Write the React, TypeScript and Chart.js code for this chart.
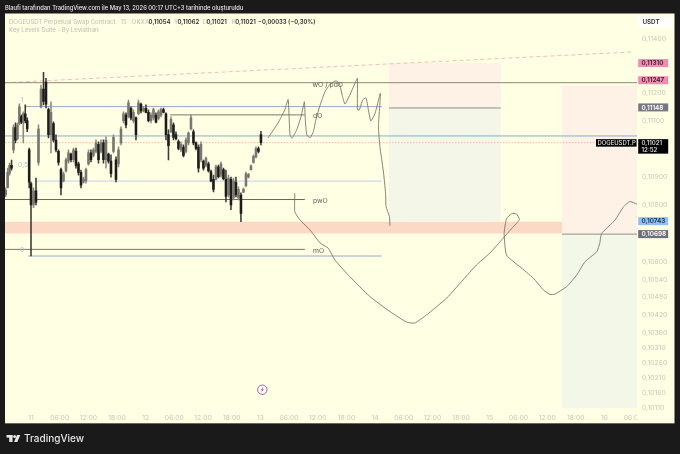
import React, { useEffect, useRef } from "react";
import { Chart, registerables } from "chart.js";

Chart.register(...registerables);

const FONT = "Inter, 'Noto Sans', sans-serif";
const toPrice = (p: number) => p / 100000;

// Candles, in 1/100000 of a USDT
const candleOpen = [10835,10862,10912,10940,10995,11075,11035,11090,11115,11095,11125,11100,10995,10875,10800,10850,10950,11150,11215,11240,11140,11050,11090,11030,10990,10925,10885,10920,10955,10980,10960,10990,10945,10915,10880,10885,10945,10985,10975,10990,11015,10990,11020,10960,10980,10955,10990,10960,10945,11020,11100,11120,11115,11145,11100,11110,11125,11160,11135,11145,11130,11100,11110,11120,11108,11120,11140,11125,11050,11060,11085,11050,11025,10995,11005,10990,11020,11070,11060,11020,11005,10960,10955,10940,10945,10918,10890,10890,10935,10905,10925,10890,10835,10890,10825,10880,10825,10835,10845,10868,10898,10925,10950,10970,11000,11050];
const candleClose = [10852,10915,10940,10930,11075,11030,11085,11150,11095,11125,11100,11070,10880,10800,10850,10810,11070,11215,11170,11160,11050,11130,11030,10995,10950,10860,10910,10960,10985,10960,10995,10940,10915,10870,10892,10925,10985,10960,10995,11020,10960,11020,10960,11030,10955,10910,11040,10890,10995,11070,11125,11085,11165,11110,11130,11050,11165,11135,11145,11130,11100,11120,11140,11095,11132,11140,11130,11050,11010,11105,11040,11035,11000,11015,10975,11030,11055,11110,11020,11000,10930,11015,10930,10965,10920,10885,10855,10935,10900,10945,10893,10830,10895,10800,10885,10835,10855,10770,10855,10910,10908,10938,10972,11000,10990,11021];
const candleHigh = [10860,10930,10948,10959,11085,11092,11092,11161,11121,11132,11157,11110,11002,10881,10860,10895,11085,11229,11276,11254,11146,11168,11096,11049,10995,10930,10916,10966,10995,10984,11002,11002,10952,10923,10898,10930,10995,10995,11002,11031,11024,11031,11031,11042,10984,10977,11049,10970,11006,11078,11132,11128,11175,11150,11139,11114,11175,11164,11150,11157,11139,11128,11146,11128,11139,11146,11146,11128,11067,11114,11092,11060,11031,11024,11013,11038,11060,11121,11067,11024,11013,11024,10959,10970,10952,10923,10905,10941,10941,10952,10930,10923,10905,10898,10895,10898,10864,10843,10860,10916,10912,10941,10977,11006,11006,11062];
const candleLow = [10829,10860,10905,10923,10984,11020,11031,11085,11089,11020,11092,11060,10860,10622,10790,10800,10941,11146,11157,11146,11038,10984,11024,10988,10941,10835,10881,10916,10948,10952,10952,10930,10905,10860,10877,10877,10941,10952,10970,10984,10948,10984,10948,10930,10948,10898,10984,10881,10934,11013,11092,11074,11110,11103,11092,11031,11121,11128,11132,11128,11096,11092,11103,11092,11103,11114,11128,11031,10959,11056,11031,11031,10995,10988,10970,10984,11013,11067,11013,10995,10916,10952,10923,10934,10916,10881,10846,10888,10895,10898,10888,10811,10828,10783,10818,10828,10818,10741,10843,10864,10895,10923,10948,10966,10984,11013];
const firstDayCandles = 13;
const earlyStartHour = -5.3;
const earlyStepHours = 0.41;
const candleStepHours = 0.523;
const candleHours = candleOpen.map((_, i) =>
  i < firstDayCandles ? earlyStartHour + i * earlyStepHours : (i - firstDayCandles) * candleStepHours
);

// Hand-drawn curves on the chart
const sketchAHours = [49.6,51.7,53.1,53.8,54.0,54.2,54.6,55.6,56.6,57.2,57.4,57.7,58.4,59.1,59.6,60.5,61.5,62.6,63.8,64.5,65.2,65.7,66.7,67.8,68.3,68.3,68.7,69.4,70.1,70.6,71.1,72.0,73.1,72.7,73.0,73.7,74.2,74.3,75.0,75.1];
const sketchAPrices = [11038,11092,11139,11177,11115,11049,11037,11067,11121,11169,11103,11049,11039,11061,11103,11157,11205,11233,11245,11236,11187,11160,11193,11236,11254,11139,11139,11175,11183,11139,11099,11127,11199,11079,11007,10923,10841,10794,10759,10727];
const sketchBHours = [55.2,55.2,56.3,58.4,60.5,62.2,63.6,66.7,70.9,75.1,78.6,80.3,82.8,87.0,90.4,93.2,96.0,98.8,100.6,102.2,101.6,100.6,99.5,99.0,99.5,102.3,105.1,107.2,108.6,109.6,112.1,114.2,115.9,118.4,119.0,119.4,122.2,124.0,125.3,126.8];
const sketchBPrices = [10841,10776,10747,10712,10667,10649,10608,10551,10483,10432,10396,10393,10421,10478,10540,10591,10632,10684,10718,10749,10768,10770,10752,10700,10625,10585,10546,10506,10490,10491,10517,10557,10602,10637,10666,10700,10747,10794,10812,10803];

// Axis
const AXIS_START_HOUR = -5.44;
const AXIS_END_HOUR = 126.8;
const timeTickHours = [0,6,12,18,24,30,36,42,48,54,60,66,72,78,84,90,96,102,108,114,120,126];
const timeTickLabels = ["11","06:00","12:00","18:00","12","06:00","12:00","18:00","13","06:00","12:00","18:00","14","06:00","12:00","18:00","15","06:00","12:00","18:00","16","06:00"];
const priceTicks = [0.114,0.112,0.111,0.109,0.108,0.106,0.1054,0.1048,0.1042,0.1036,0.1031,0.1026,0.1021,0.1016,0.1011];
const PRICE_TOP = 0.114938;
const PRICE_BOTTOM = 0.100999;

// Levels
const levels = [
  { from: AXIS_START_HOUR, to: AXIS_END_HOUR, price: 11238, color: "#8b8b72", width: 1, dash: [] as number[] },
  { from: -1.05, to: 73.4, price: 11151, color: "#93abd0", width: 1, dash: [] },
  { from: 29.1, to: 57.3, price: 11121, color: "#77776a", width: 1, dash: [] },
  { from: 74.9, to: 98.3, price: 11146, color: "#8f8f8f", width: 1, dash: [] },
  { from: AXIS_START_HOUR, to: AXIS_END_HOUR, price: 11045, color: "#8fa8d0", width: 1, dash: [] },
  { from: AXIS_START_HOUR, to: 118.0, price: 11021, color: "#f0b6ae", width: 1, dash: [1.5, 1.5] },
  { from: 0.84, to: 73.4, price: 10884, color: "#cdd8e6", width: 1.2, dash: [] },
  { from: AXIS_START_HOUR, to: 57.3, price: 10819, color: "#66665c", width: 1, dash: [] },
  { from: AXIS_START_HOUR, to: 57.3, price: 10645, color: "#77776a", width: 1, dash: [] },
  { from: -0.63, to: 73.4, price: 10622, color: "#93abd0", width: 1, dash: [] },
  { from: 111.1, to: AXIS_END_HOUR, price: 10698, color: "#8f8f8f", width: 1, dash: [] },
];
const trendHours = [AXIS_START_HOUR, 126.15];
const trendPrices = [11238, 11351];

const zones = [
  { from: 74.9, to: 98.3, top: 11310, bottom: 11146, color: "#fef2e6" },
  { from: 74.9, to: 98.3, top: 11146, bottom: 10743, color: "#f4f7e8" },
  { from: 111.1, to: AXIS_END_HOUR, top: 11229, bottom: 10698, color: "#fef2e6" },
  { from: 111.1, to: AXIS_END_HOUR, top: 10698, bottom: 10110, color: "#f3f7e8" },
  { from: AXIS_START_HOUR, to: AXIS_END_HOUR, top: 10741, bottom: 10700, color: "rgba(248,165,155,0.42)" },
];

const levelLabels = [
  { text: "wO / pdO", hour: 58.9, price: 11230 },
  { text: "dO", hour: 59.0, price: 11117 },
  { text: "pwO", hour: 59.0, price: 10815 },
  { text: "mO", hour: 59.0, price: 10641 },
];
const fibLabels = [
  { text: "1", hour: -2.2, price: 11175 },
  { text: "0,5", hour: -2.7, price: 10943 },
  { text: "0", hour: -2.3, price: 10643 },
];
const priceTags = [
  { price: 0.1131, bg: "#f08bb2", fg: "#3a2030" },
  { price: 0.11247, bg: "#f08bb2", fg: "#3a2030" },
  { price: 0.11148, bg: "#787884", fg: "#ffffff" },
  { price: 0.10743, bg: "#8dc0f6", fg: "#1c2a3c" },
  { price: 0.10698, bg: "#6e6e78", fg: "#ffffff" },
];
const LAST_PRICE = 0.11021;
const COUNTDOWN = "12:52";
const SYMBOL_TAG = "DOGEUSDT.P";
const EVENT_HOUR = 48.4;
const EVENT_PRICE = 0.1017;

const HEADER = "Blaufi tarafından TradingView.com ile May 13, 2026 00:17 UTC+3 tarihinde oluşturuldu";
const TITLE = "DOGEUSDT Perpetual Swap Contract · 15 · OKX";
const OHLC = [
  ["A", "0,11054"],
  ["Y", "0,11062"],
  ["D", "0,11021"],
  ["K", "0,11021"],
];
const CHANGE = "−0,00033 (−0,30%)";
const INDICATOR = "Key Levels Suite - By Leviathan";

const DARK = "#1a1a1a";
const PAPER = "#ffffe4";
const MUTED = "#c6c6bb";
const fmt = (v: number) => v.toFixed(5).replace(".", ",");

const chrome = {
  id: "chrome",
  beforeDraw(chart: any) {
    const c = chart.ctx;
    c.save();
    c.fillStyle = DARK;
    c.fillRect(0, 0, 680, 454);
    c.fillStyle = PAPER;
    c.fillRect(5, 13.5, 669.5, 409.5);
    c.fillStyle = "#8a8a80";
    c.fillRect(5, 423, 669.5, 0.7);
    c.restore();
  },
  afterDatasetsDraw(chart: any) {
    const c = chart.ctx;
    const { right, bottom } = chart.chartArea;
    c.save();
    c.fillStyle = PAPER;
    c.fillRect(right, bottom, 37, 12);
    c.restore();
  },
  afterDraw(chart: any) {
    const c = chart.ctx;
    const xs = chart.scales.x;
    const ys = chart.scales.y;
    const { right } = chart.chartArea;
    c.save();
    c.textBaseline = "middle";
    c.textAlign = "left";

    c.fillStyle = "#e6e6e6";
    c.font = `500 5.8px ${FONT}`;
    c.fillText(HEADER, 5, 8.5);

    c.font = `500 6px ${FONT}`;
    c.fillStyle = MUTED;
    c.fillText(TITLE, 9, 22);
    c.fillText(INDICATOR, 9, 30);

    let x = 145;
    OHLC.forEach(([k, v]) => {
      c.fillStyle = MUTED;
      c.font = `500 6.1px ${FONT}`;
      c.fillText(k, x, 22);
      c.fillStyle = "#2c2c2c";
      c.font = `600 6px ${FONT}`;
      c.fillText(v, x + 3.6, 22);
      x += 28.9;
    });
    c.fillStyle = "#2c2c2c";
    c.font = `600 5.9px ${FONT}`;
    c.fillText(CHANGE, 258, 22);

    c.fillStyle = "#ffffff";
    c.fillRect(638, 17, 34, 10.5);
    c.fillStyle = "#333333";
    c.font = `600 6.3px ${FONT}`;
    c.textAlign = "center";
    c.fillText("USDT", 651, 22);
    c.textAlign = "left";

    c.fillStyle = "#5c5c52";
    c.font = `400 6.8px ${FONT}`;
    levelLabels.forEach((l) => c.fillText(l.text, xs.getPixelForValue(l.hour), ys.getPixelForValue(toPrice(l.price))));
    c.fillStyle = "#a9bcd8";
    fibLabels.forEach((l) => c.fillText(l.text, xs.getPixelForValue(l.hour), ys.getPixelForValue(toPrice(l.price))));

    c.font = `600 6.4px ${FONT}`;
    priceTags.forEach((t) => {
      const y = ys.getPixelForValue(t.price);
      c.fillStyle = t.bg;
      c.fillRect(right + 1.2, y - 4, 30, 8);
      c.fillStyle = t.fg;
      c.fillText(fmt(t.price), right + 4.5, y + 0.3);
    });

    const ly = ys.getPixelForValue(LAST_PRICE);
    c.fillStyle = "#000000";
    c.fillRect(right + 1.2, ly - 3.5, 30, 14.5);
    c.fillRect(right - 41, ly - 3.5, 40.6, 7.5);
    c.fillStyle = "#e8e8e8";
    c.font = `500 6.2px ${FONT}`;
    c.fillText(fmt(LAST_PRICE), right + 4.5, ly + 0.2);
    c.fillText(COUNTDOWN, right + 4.5, ly + 7);
    c.font = `500 5.9px ${FONT}`;
    c.fillText(SYMBOL_TAG, right - 39.5, ly + 0.3);

    const ex = xs.getPixelForValue(EVENT_HOUR);
    const ey = ys.getPixelForValue(EVENT_PRICE);
    c.strokeStyle = "#9a4fb4";
    c.fillStyle = "#9a4fb4";
    c.lineWidth = 0.9;
    c.beginPath();
    c.arc(ex, ey, 4.7, 0, Math.PI * 2);
    c.stroke();
    c.beginPath();
    c.moveTo(ex + 1.1, ey - 3);
    c.lineTo(ex - 1.6, ey + 0.5);
    c.lineTo(ex - 0.1, ey + 0.5);
    c.lineTo(ex - 1.1, ey + 3);
    c.lineTo(ex + 1.6, ey - 0.5);
    c.lineTo(ex + 0.1, ey - 0.5);
    c.closePath();
    c.fill();

    c.fillStyle = "#e4e4e4";
    c.fillRect(6.5, 435, 6, 2.6);
    c.fillRect(9.2, 435, 3.3, 7);
    c.beginPath();
    c.arc(14.6, 436.4, 1.5, 0, Math.PI * 2);
    c.fill();
    c.beginPath();
    c.moveTo(17, 435);
    c.lineTo(20.3, 435);
    c.lineTo(17.3, 442);
    c.lineTo(14, 442);
    c.closePath();
    c.fill();
    c.font = `500 10px ${FONT}`;
    c.fillText("TradingView", 24, 439);
    c.restore();
  },
};

export default function App() {
  const ref = useRef<HTMLCanvasElement | null>(null);

  useEffect(() => {
    document.body.style.margin = "0";
    document.body.style.background = DARK;
    const chart = new Chart(ref.current as HTMLCanvasElement, {
      type: "bar",
      plugins: [chrome],
      data: {
        datasets: [
          ...zones.map((z) => ({
            type: "line" as const,
            data: [
              { x: z.from, y: toPrice(z.top) },
              { x: z.to, y: toPrice(z.top) },
            ],
            borderWidth: 0,
            pointRadius: 0,
            fill: { value: toPrice(z.bottom) },
            backgroundColor: z.color,
            order: 20,
          })),
          ...levels.map((l) => ({
            type: "line" as const,
            data: [
              { x: l.from, y: toPrice(l.price) },
              { x: l.to, y: toPrice(l.price) },
            ],
            borderColor: l.color,
            borderWidth: l.width,
            borderDash: l.dash,
            pointRadius: 0,
            order: 10,
          })),
          {
            type: "line" as const,
            data: trendHours.map((h, i) => ({ x: h, y: toPrice(trendPrices[i]) })),
            borderColor: "#f0b6ae",
            borderWidth: 0.9,
            borderDash: [4, 3],
            pointRadius: 0,
            order: 10,
          },
          {
            type: "bar" as const,
            data: candleHours.map((h, i) => ({ x: h, y: [toPrice(candleLow[i]), toPrice(candleHigh[i])] })),
            backgroundColor: candleHours.map((_, i) => (candleClose[i] >= candleOpen[i] ? "#8a8a80" : "#3a3a36")),
            barThickness: 0.9,
            grouped: false,
            order: 6,
          },
          {
            type: "bar" as const,
            data: candleHours.map((h, i) => ({ x: h, y: [toPrice(candleOpen[i]), toPrice(candleClose[i])] })),
            backgroundColor: candleHours.map((_, i) => (candleClose[i] >= candleOpen[i] ? "#77776f" : "#1c1c1a")),
            barThickness: 1.9,
            grouped: false,
            order: 5,
          },
          {
            type: "line" as const,
            data: sketchAHours.map((h, i) => ({ x: h, y: toPrice(sketchAPrices[i]) })),
            borderColor: "#77776a",
            borderWidth: 0.9,
            tension: 0.15,
            pointRadius: 0,
            order: 2,
          },
          {
            type: "line" as const,
            data: sketchBHours.map((h, i) => ({ x: h, y: toPrice(sketchBPrices[i]) })),
            borderColor: "#77776a",
            borderWidth: 0.9,
            tension: 0.15,
            pointRadius: 0,
            order: 2,
          },
        ] as any,
      },
      options: {
        responsive: false,
        maintainAspectRatio: false,
        animation: false,
        events: [],
        layout: { padding: { left: 5, top: 13.5, right: 6, bottom: 31 } },
        plugins: { legend: { display: false }, tooltip: { enabled: false }, title: { display: false } },
        scales: {
          x: {
            type: "linear",
            offset: false,
            min: AXIS_START_HOUR,
            max: AXIS_END_HOUR,
            bounds: "data",
            grid: { display: false, drawTicks: false, offset: false },
            border: { display: false },
            afterFit: (s: any) => {
              s.height = 12;
            },
            afterBuildTicks: (s: any) => {
              s.ticks = timeTickHours.map((value) => ({ value }));
            },
            ticks: {
              autoSkip: false,
              maxRotation: 0,
              padding: 3,
              color: MUTED,
              font: { family: FONT, size: 6.8 },
              callback: (v: any) => timeTickLabels[timeTickHours.indexOf(Number(v))] ?? "",
            },
          },
          y: {
            type: "logarithmic",
            position: "right",
            min: PRICE_BOTTOM,
            max: PRICE_TOP,
            bounds: "data",
            grid: { display: false, drawTicks: false },
            border: { display: false },
            afterFit: (s: any) => {
              s.width = 37;
            },
            afterBuildTicks: (s: any) => {
              s.ticks = priceTicks.map((value) => ({ value }));
            },
            ticks: {
              autoSkip: false,
              padding: 5,
              color: MUTED,
              font: { family: FONT, size: 6.8 },
              callback: (v: any) => fmt(Number(v)),
            },
          },
        },
      } as any,
    });
    return () => chart.destroy();
  }, []);

  return (
    <div style={{ position: "absolute", left: 0, top: 0, width: 680, height: 454, background: DARK }}>
      <canvas ref={ref} width={680} height={454} style={{ display: "block", width: 680, height: 454 }} />
    </div>
  );
}
